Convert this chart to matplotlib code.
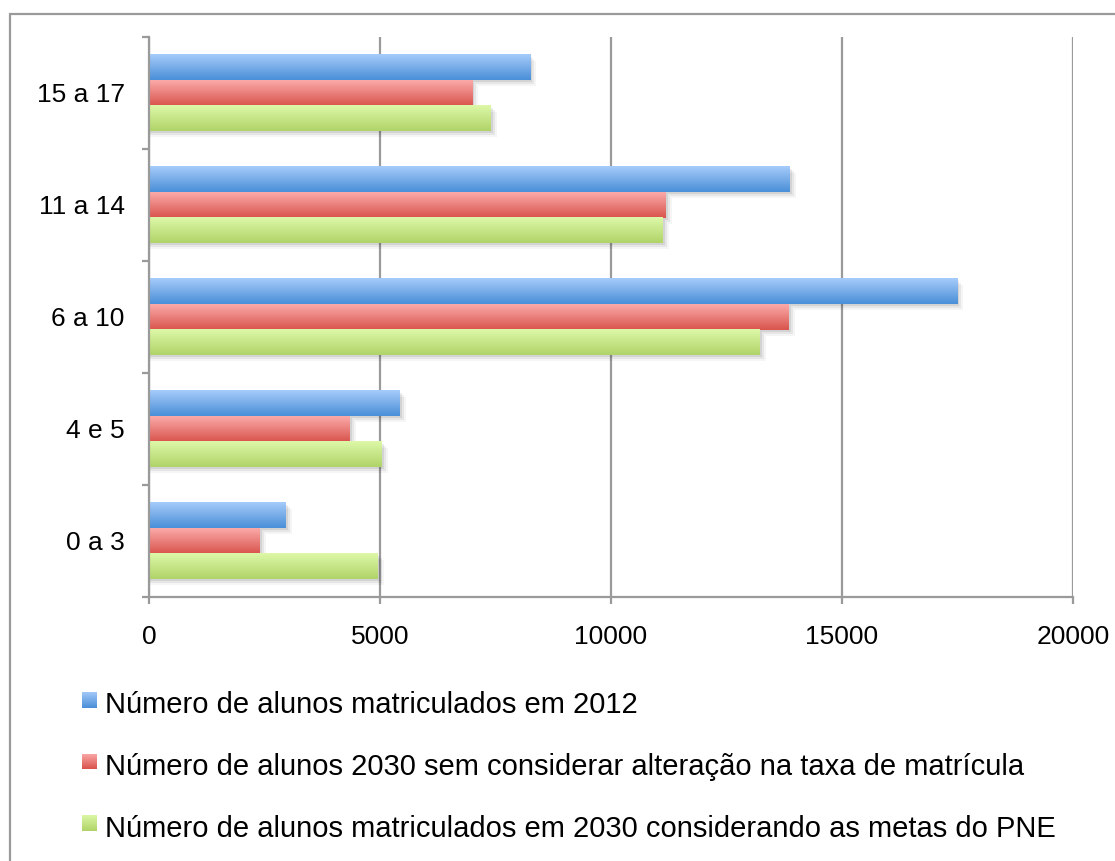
import numpy as np
import matplotlib.pyplot as plt
from matplotlib.patches import Rectangle
from matplotlib.colors import LinearSegmentedColormap

plt.rcParams['font.family'] = ['Liberation Sans', 'DejaVu Sans']

# faixas etárias (de baixo para cima)
faixas = ['0 a 3', '4 e 5', '6 a 10', '11 a 14', '15 a 17']
matriculados_2012 = [2960, 5430, 17490, 13870, 8250]
alunos_2030_sem_alteracao = [2400, 4350, 13850, 11190, 7000]
matriculados_2030_pne = [4950, 5040, 13220, 11120, 7400]

series_labels = [
    'Número de alunos matriculados em 2012',
    'Número de alunos 2030 sem considerar alteração na taxa de matrícula',
    'Número de alunos matriculados em 2030 considerando as metas do PNE',
]
series = [matriculados_2012, alunos_2030_sem_alteracao, matriculados_2030_pne]
# gradiente: cor de cima, cor de baixo
gradientes = [('#a6cbfa', '#4a8fd8'), ('#fbaaa9', '#d9544d'), ('#ddf8a8', '#b0d468')]

W, H = 1115, 861
fig = plt.figure(figsize=(W / 100, H / 100), dpi=100)
fig.patch.set_facecolor('white')

# moldura externa
fig.add_artist(Rectangle((9.5 / W, -0.05), 1.2, 1 - 14 / H + 0.05,
                         transform=fig.transFigure, fill=False,
                         edgecolor='#9a9a9a', linewidth=1.6))

ax = fig.add_axes([149 / W, 1 - 597 / H, (1073 - 149) / W, (597 - 37) / H])

xmax = 20000
h = 0.224
offsets = [h, 0, -h]
px_x = xmax / 924.0
px_y = len(faixas) / 560.0


def grad_bar(ax, x, yc, top, bottom):
    cmap = LinearSegmentedColormap.from_list('g', [bottom, top])
    y0, y1 = yc - h / 2, yc + h / 2
    # sombra suave
    for k, a in zip([6, 4, 2], [0.04, 0.06, 0.08]):
        ax.add_patch(Rectangle((0, y0 - k * px_y), x + k * px_x, h,
                               facecolor='black', alpha=a, edgecolor='none',
                               zorder=2))
    grad = np.linspace(0, 1, 64).reshape(-1, 1)
    ax.imshow(grad, cmap=cmap, origin='lower', extent=(0, x, y0, y1),
              aspect='auto', zorder=3, interpolation='bicubic')


for vals, (top, bottom), off in zip(series, gradientes, offsets):
    for i, v in enumerate(vals):
        grad_bar(ax, v, i + off, top, bottom)

ax.set_xlim(0, xmax)
ax.set_ylim(-0.5, len(faixas) - 0.5)

gray = '#9a9a9a'
ax.set_xticks(np.arange(0, xmax + 1, 5000))
ax.set_yticks(range(len(faixas)))
ax.set_yticklabels(faixas)
ax.set_yticks(np.arange(-0.5, len(faixas), 1), minor=True)
ax.tick_params(axis='y', which='major', length=0, pad=17.5, labelsize=19)
ax.tick_params(axis='y', which='minor', length=5, width=1.6, color=gray)
ax.tick_params(axis='x', length=5, width=1.6, color=gray, pad=15, labelsize=19)

ax.grid(axis='x', color=gray, linewidth=1.6, zorder=1)
ax.set_axisbelow(True)
for s in ['top', 'right']:
    ax.spines[s].set_visible(False)
for s in ['left', 'bottom']:
    ax.spines[s].set_color(gray)
    ax.spines[s].set_linewidth(1.6)
    ax.spines[s].set_zorder(4)

# legenda
for i, (lab, (top, bottom)) in enumerate(zip(series_labels, gradientes)):
    sq_top = 692 + 61.5 * i
    base = 713 + 62 * i
    lax = fig.add_axes([82 / W, 1 - (sq_top + 16) / H, 15 / W, 16 / H])
    lax.imshow(np.linspace(0, 1, 32).reshape(-1, 1), origin='lower',
               cmap=LinearSegmentedColormap.from_list('g', [bottom, top]),
               aspect='auto')
    lax.axis('off')
    fig.text(105 / W, 1 - base / H, lab, fontsize=21, va='baseline', ha='left')

fig.savefig('out.png', dpi=100)
